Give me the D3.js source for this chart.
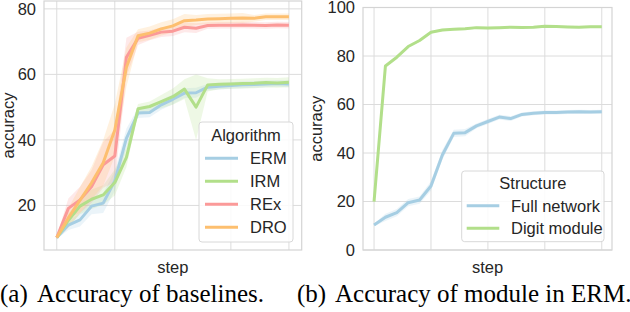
<!DOCTYPE html>
<meta charset="utf-8">
<script src="https://cdnjs.cloudflare.com/ajax/libs/d3/7.8.5/d3.min.js"></script>
<style>
  body { margin: 0; background: #fff; }
  svg { display: block; font-family: "Liberation Sans", Arial, sans-serif; }
</style>
<body>
<script>
// ---- data ----
var steps = d3.range(0, 21);

// panel (a): baselines
var ermAcc = [10.2, 14, 15.6, 19.8, 20.7, 27.5, 40.5, 48.2, 48.4, 50.7, 52.4, 54.3, 54.4, 56.1, 56.4, 56.6, 56.8, 56.9, 57.1, 57.2, 57.1];
var irmAcc = [10.2, 15.5, 19.8, 21.9, 23.2, 27, 34.7, 49.5, 50.2, 51.7, 53.2, 55.5, 50, 56.8, 57, 57.1, 57.2, 57.3, 57.5, 57.4, 57.6];
var rexAcc = [10.2, 19.1, 21.7, 25.8, 32.4, 35.1, 65.2, 71, 71.9, 72.9, 73.2, 74.4, 74.1, 74.9, 75, 75, 75.1, 75, 74.9, 75.1, 75];
var droAcc = [10.2, 16.2, 21.6, 26.9, 33, 43, 62.2, 71.8, 72.6, 73.9, 74.8, 76.4, 76.6, 76.9, 77, 77.1, 77.2, 77.1, 77.6, 77.6, 77.6];
var ermCi = [0.5, 1.5, 2, 2.5, 3, 3, 3, 1.5, 1.5, 1.5, 1.5, 1.5, 1.5, 1, 1, 1, 1, 1, 1, 1, 1];
var irmCi = [0.5, 2, 2.5, 3, 3, 4, 3, 1.5, 1.5, 2, 2.5, 3, 10, 2, 1.5, 1.5, 1.5, 1.5, 1.5, 1.5, 1.5];
var rexCi = [0.5, 3, 4, 5, 7, 8, 6, 2, 1.5, 1.5, 1.5, 1.5, 1.5, 1, 1, 1, 1, 1, 1, 1, 1];
var droCi = [0.5, 3, 4, 5, 7, 8, 6, 2, 2, 2, 2, 2, 1.5, 1.5, 1.5, 1.5, 1.5, 1, 1, 1, 1];
var algoNames = ["ERM", "IRM", "REx", "DRO"];

// panel (b): module accuracy in ERM
var fullAcc = [10.3, 13.5, 15.4, 19.5, 20.6, 26.4, 39.2, 48.1, 48.4, 51.2, 53, 54.8, 54.2, 55.9, 56.4, 56.7, 56.7, 56.9, 57, 56.9, 57];
var digitAcc = [19.9, 75.9, 79.5, 83.9, 86.4, 89.8, 90.7, 91, 91.2, 91.7, 91.5, 91.7, 91.9, 91.8, 91.9, 92.3, 92.2, 92, 91.9, 92.1, 92.1];
var fullCi = [0.5, 1.5, 1.5, 1.5, 1.5, 2, 2, 1.5, 1.5, 1, 1, 1, 1, 0.8, 0.8, 0.8, 0.8, 0.8, 0.8, 0.8, 0.8];
var digitCi = [0.3, 0.5, 0.5, 0.5, 0.5, 0.5, 0.5, 0.5, 0.5, 0.5, 0.5, 0.5, 0.5, 0.5, 0.5, 0.5, 0.5, 0.5, 0.5, 0.5, 0.5];
var structNames = ["Full network", "Digit module"];

var ticksA = [20, 40, 60, 80];
var ticksB = [0, 20, 40, 60, 80, 100];
var xGrid = [0, 5, 10, 15, 20];

var paired = ["#a6cee3", "#b2df8a", "#fb9a99", "#fdbf6f"];

var svg = d3.select("body").append("svg")
    .attr("width", 630)
    .attr("height", 312);

function panel(cfg) {
  var x = d3.scaleLinear().domain(cfg.xDomain).range(cfg.xRange);
  var y = d3.scaleLinear().domain(cfg.yDomain).range(cfg.yRange);
  var g = svg.append("g");

  // grid
  g.selectAll(".gx").data(xGrid).enter().append("line")
    .attr("x1", d => x(d)).attr("x2", d => x(d))
    .attr("y1", cfg.yRange[0]).attr("y2", cfg.yRange[1])
    .attr("stroke", "#dcdcdc").attr("stroke-width", 1);
  g.selectAll(".gy").data(cfg.yTicks).enter().append("line")
    .attr("x1", cfg.xRange[0]).attr("x2", cfg.xRange[1])
    .attr("y1", d => y(d)).attr("y2", d => y(d))
    .attr("stroke", "#dcdcdc").attr("stroke-width", 1);
  g.append("rect")
    .attr("x", cfg.xRange[0]).attr("y", cfg.yRange[1])
    .attr("width", cfg.xRange[1] - cfg.xRange[0])
    .attr("height", cfg.yRange[0] - cfg.yRange[1])
    .attr("fill", "none").attr("stroke", "#d4d4d4").attr("stroke-width", 1.2);

  // tick labels
  g.selectAll(".tl").data(cfg.yTicks).enter().append("text")
    .attr("x", cfg.xRange[0] - 8).attr("y", d => y(d) + 5.8)
    .attr("text-anchor", "end").attr("font-size", 16.5).attr("fill", "#262626")
    .text(d => d);

  // axis labels
  g.append("text")
    .attr("transform", "translate(" + cfg.yLabelX + "," + ((cfg.yRange[0] + cfg.yRange[1]) / 2) + ") rotate(-90)")
    .attr("text-anchor", "middle").attr("font-size", 16.5).attr("fill", "#262626")
    .text("accuracy");
  g.append("text")
    .attr("x", (cfg.xRange[0] + cfg.xRange[1]) / 2).attr("y", 273)
    .attr("text-anchor", "middle").attr("font-size", 16.5).attr("fill", "#262626")
    .text("step");

  var area = d3.area()
    .x((d, i) => x(steps[i]))
    .y0(d => y(d[0] - d[1]))
    .y1(d => y(d[0] + d[1]));
  var line = d3.line()
    .x((d, i) => x(steps[i]))
    .y(d => y(d));

  cfg.series.forEach(function(s) {
    g.append("path")
      .datum(s.values.map((v, i) => [v, s.ci[i]]))
      .attr("d", area)
      .attr("fill", s.color).attr("fill-opacity", 0.22);
  });
  cfg.series.forEach(function(s) {
    g.append("path")
      .datum(s.values)
      .attr("d", line)
      .attr("fill", "none").attr("stroke", s.color)
      .attr("stroke-width", 3).attr("stroke-linejoin", "round");
  });

  // legend
  var L = cfg.legend;
  var lg = g.append("g");
  lg.append("rect")
    .attr("x", L.x).attr("y", L.y).attr("width", L.w).attr("height", L.h)
    .attr("rx", 3).attr("fill", "#fff").attr("fill-opacity", 0.85)
    .attr("stroke", "#d8d8d8").attr("stroke-width", 1);
  lg.append("text")
    .attr("x", L.x + L.w / 2).attr("y", L.titleY)
    .attr("text-anchor", "middle").attr("font-size", 16.5).attr("fill", "#262626")
    .text(L.title);
  cfg.series.forEach(function(s, i) {
    var cy = L.firstY + i * L.step;
    lg.append("line")
      .attr("x1", L.lineX[0]).attr("x2", L.lineX[1])
      .attr("y1", cy).attr("y2", cy)
      .attr("stroke", s.color).attr("stroke-width", 3);
    lg.append("text")
      .attr("x", L.textX).attr("y", cy + 5.8)
      .attr("font-size", 16.5).attr("fill", "#262626")
      .text(s.name);
  });
}

panel({
  xDomain: [-1.1, 21.1], xRange: [44, 301.7],
  yDomain: [6.4, 82.4], yRange: [250, 1],
  yTicks: ticksA, yLabelX: 13.5,
  series: [
    {name: algoNames[0], values: ermAcc, ci: ermCi, color: paired[0]},
    {name: algoNames[1], values: irmAcc, ci: irmCi, color: paired[1]},
    {name: algoNames[2], values: rexAcc, ci: rexCi, color: paired[2]},
    {name: algoNames[3], values: droAcc, ci: droCi, color: paired[3]}
  ],
  legend: {x: 199, y: 122, w: 94, h: 120, title: "Algorithm", titleY: 140.5,
           firstY: 158.3, step: 23, lineX: [205, 238], textX: 250}
});

panel({
  xDomain: [-0.97, 20.9], xRange: [363, 612],
  yDomain: [0, 100], yRange: [250, 7.5],
  yTicks: ticksB, yLabelX: 322,
  series: [
    {name: structNames[0], values: fullAcc, ci: fullCi, color: paired[0]},
    {name: structNames[1], values: digitAcc, ci: digitCi, color: paired[1]}
  ],
  legend: {x: 461.7, y: 171, w: 142.3, h: 70.7, title: "Structure", titleY: 189.3,
           firstY: 205.7, step: 22.6, lineX: [466.7, 499.3], textX: 511}
});

// captions
var cap = svg.append("g")
  .attr("font-family", "'Liberation Serif', 'Times New Roman', serif")
  .attr("font-size", 25).attr("fill", "#000");
cap.append("text").attr("x", 0).attr("y", 302).text("(a)");
cap.append("text").attr("x", 37).attr("y", 302).text("Accuracy of baselines.");
cap.append("text").attr("x", 297).attr("y", 302).text("(b)");
cap.append("text").attr("x", 335).attr("y", 302).text("Accuracy of module in ERM.");
</script>
</body>
